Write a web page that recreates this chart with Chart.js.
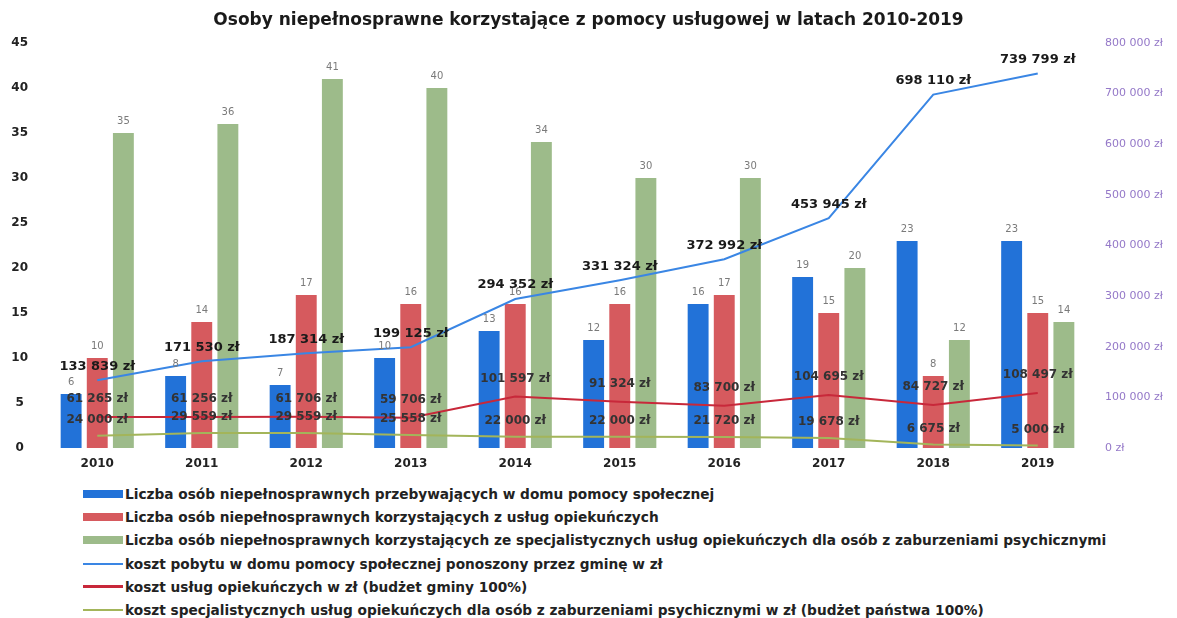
<!DOCTYPE html>
<html>
<head>
<meta charset="utf-8">
<script src="https://cdn.jsdelivr.net/npm/chart.js@4/dist/chart.umd.min.js"></script>
<style>
  body { margin: 0; background: #fff; width: 1177px; height: 618px; overflow: hidden; font-family: "DejaVu Sans", sans-serif; }
  #c { position: absolute; left: 0; top: 0; }
  #legend { position: absolute; left: 83px; top: 482px; }
  .item { display: flex; align-items: center; height: 23.3px; font-weight: bold; font-size: 13.7px; color: #222; white-space: nowrap; }
  .sw { width: 40px; margin-right: 2px; }
</style>
</head>
<body>
<canvas id="c" width="1177" height="475"></canvas>
<div id="legend"></div>
<script>
const years = ["2010", "2011", "2012", "2013", "2014", "2015", "2016", "2017", "2018", "2019"];

// liczba osób (lewa oś)
const dpsPeople = [6, 8, 7, 10, 13, 12, 16, 19, 23, 23];
const carePeople = [10, 14, 17, 16, 16, 16, 17, 15, 8, 15];
const specialPeople = [35, 36, 41, 40, 34, 30, 30, 20, 12, 14];

// koszty w zł (prawa oś)
const dpsCost = [133839, 171530, 187314, 199125, 294352, 331324, 372992, 453945, 698110, 739799];
const careCost = [61265, 61256, 61706, 59706, 101597, 91324, 83700, 104695, 84727, 108497];
const specialCost = [24000, 29559, 29559, 25558, 22000, 22000, 21720, 19678, 6675, 5000];

const leftTicks = [0, 5, 10, 15, 20, 25, 30, 35, 40, 45];
const rightTicks = [0, 100000, 200000, 300000, 400000, 500000, 600000, 700000, 800000];

const labels = [
  "Liczba osób niepełnosprawnych przebywających w domu pomocy społecznej",
  "Liczba osób niepełnosprawnych korzystających z usług opiekuńczych",
  "Liczba osób niepełnosprawnych korzystających ze specjalistycznych usług opiekuńczych dla osób z zaburzeniami psychicznymi",
  "koszt pobytu w domu pomocy społecznej ponoszony przez gminę  w zł",
  "koszt usług opiekuńczych w zł (budżet gminy 100%)",
  "koszt specjalistycznych usług opiekuńczych dla osób z zaburzeniami psychicznymi w zł (budżet państwa 100%)",
];

const colors = {
  blueBar: "#2272d8",
  redBar: "#d65a5e",
  greenBar: "#9dbb8a",
  blueLine: "#3a86e4",
  redLine: "#c8283a",
  greenLine: "#a3b55a",
  axisText: "#222",
  rightText: "#9478c8",
  barLabel: "#7a7a7a",
};

function zl(v) {
  return String(v).replace(/\B(?=(\d{3})+(?!\d))/g, " ") + " zł";
}

// podpisy wartości nad słupkami i punktami
const labelStyle = [
  { font: "10px 'DejaVu Sans'", color: colors.barLabel, dy: 12, fmt: v => v },
  { font: "10px 'DejaVu Sans'", color: colors.barLabel, dy: 12, fmt: v => v },
  { font: "10px 'DejaVu Sans'", color: colors.barLabel, dy: 12, fmt: v => v },
  { font: "bold 13px 'DejaVu Sans'", color: "#1a1a1a", dy: 14, fmt: zl },
  { font: "bold 12px 'DejaVu Sans'", color: "#333", dy: 18, fmt: zl },
  { font: "bold 12px 'DejaVu Sans'", color: "#333", dy: 16, fmt: zl },
];

const valueLabels = {
  id: "valueLabels",
  afterDatasetsDraw(chart) {
    const ctx = chart.ctx;
    ctx.save();
    ctx.textAlign = "center";
    ctx.textBaseline = "middle";
    chart.data.datasets.forEach((ds, i) => {
      const st = labelStyle[i];
      const meta = chart.getDatasetMeta(i);
      ctx.font = st.font;
      ctx.fillStyle = st.color;
      meta.data.forEach((el, j) => {
        ctx.fillText(st.fmt(ds.data[j]), el.x, el.y - st.dy);
      });
    });
    ctx.restore();
  },
};

const chart = new Chart(document.getElementById("c"), {
  data: {
    labels: years,
    datasets: [
      { type: "bar", label: labels[0], data: dpsPeople, backgroundColor: colors.blueBar, yAxisID: "y", order: 2 },
      { type: "bar", label: labels[1], data: carePeople, backgroundColor: colors.redBar, yAxisID: "y", order: 2 },
      { type: "bar", label: labels[2], data: specialPeople, backgroundColor: colors.greenBar, yAxisID: "y", order: 2 },
      { type: "line", label: labels[3], data: dpsCost, borderColor: colors.blueLine, borderWidth: 2, yAxisID: "y1", order: 1 },
      { type: "line", label: labels[4], data: careCost, borderColor: colors.redLine, borderWidth: 2, yAxisID: "y1", order: 1 },
      { type: "line", label: labels[5], data: specialCost, borderColor: colors.greenLine, borderWidth: 2, yAxisID: "y1", order: 1 },
    ],
  },
  options: {
    responsive: false,
    animation: false,
    layout: { padding: 0 },
    datasets: {
      bar: { categoryPercentage: 0.75, barPercentage: 0.8 },
      line: { pointRadius: 0, tension: 0, fill: false },
    },
    plugins: {
      legend: { display: false },
      tooltip: { enabled: false },
      title: {
        display: true,
        text: "Osoby niepełnosprawne korzystające z pomocy usługowej w latach 2010-2019",
        color: "#1a1a1a",
        font: { family: "DejaVu Sans", size: 17, weight: "bold" },
        padding: { top: 10, bottom: 12.6 },
      },
    },
    scales: {
      x: {
        grid: { display: false, drawTicks: false },
        border: { display: false },
        ticks: { color: colors.axisText, font: { family: "DejaVu Sans", size: 12, weight: "bold" }, padding: 9 },
        afterFit: s => { s.height = 27; },
      },
      y: {
        position: "left",
        min: 0,
        max: 45,
        grid: { display: false, drawTicks: false },
        border: { display: false },
        afterBuildTicks: s => { s.ticks = leftTicks.map(v => ({ value: v })); },
        ticks: { color: colors.axisText, font: { family: "DejaVu Sans", size: 12, weight: "bold" }, padding: 17, crossAlign: "center" },
        afterFit: s => { s.width = 45; },
      },
      y1: {
        position: "right",
        min: 0,
        max: 800000,
        grid: { display: false, drawTicks: false },
        border: { display: false },
        afterBuildTicks: s => { s.ticks = rightTicks.map(v => ({ value: v })); },
        ticks: { color: colors.rightText, font: { family: "DejaVu Sans", size: 11 }, padding: 15, callback: v => zl(v) },
        afterFit: s => { s.width = 87; },
      },
    },
  },
  plugins: [valueLabels],
});

// legenda w jednej kolumnie pod wykresem
const legendSwatches = [
  { color: colors.blueBar, h: 8 },
  { color: colors.redBar, h: 8 },
  { color: colors.greenBar, h: 8 },
  { color: colors.blueLine, h: 2 },
  { color: colors.redLine, h: 3 },
  { color: colors.greenLine, h: 2 },
];
const legendEl = document.getElementById("legend");
labels.forEach((text, i) => {
  const row = document.createElement("div");
  row.className = "item";
  const sw = document.createElement("span");
  sw.className = "sw";
  sw.style.height = legendSwatches[i].h + "px";
  sw.style.background = legendSwatches[i].color;
  const t = document.createElement("span");
  t.textContent = text;
  row.appendChild(sw);
  row.appendChild(t);
  legendEl.appendChild(row);
});
</script>
</body>
</html>
